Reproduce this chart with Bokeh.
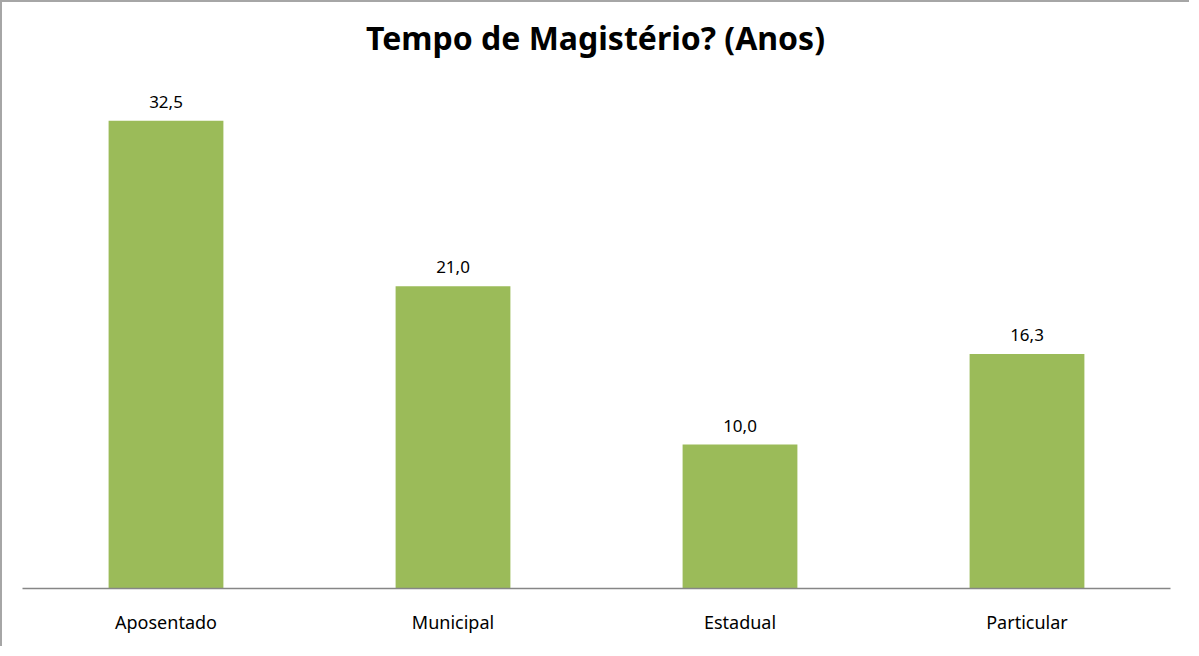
from bokeh.plotting import figure
from bokeh.models import Range1d, FactorRange, ColumnDataSource, Label
from bokeh.embed import file_html
from bokeh.resources import INLINE

categories = ["Aposentado", "Municipal", "Estadual", "Particular"]
values = [32.5, 21.0, 10.0, 16.3]
value_labels = ["32,5", "21,0", "10,0", "16,3"]
title_text = "Tempo de Magistério? (Anos)"

FONT = "Noto Sans"

src = ColumnDataSource(data=dict(cat=categories, val=values, lab=value_labels))

p = figure(
    x_range=FactorRange(*categories, range_padding=0),
    y_range=Range1d(0, 40.72),
    width=1189, height=646,
    output_backend="svg", toolbar_location=None,
    min_border_left=20, min_border_right=21, min_border_top=0, min_border_bottom=60,
)
p.styles = {"border-left": "2px solid #a6a6a6", "border-top": "2px solid #a6a6a6"}

p.vbar(x="cat", top="val", width=0.4, source=src, fill_color="#9BBB59", line_color=None)
p.text(x="cat", y="val", text="lab", source=src, text_align="center", text_baseline="bottom",
       y_offset=-13, text_font_size="17px", text_color="#000000", text_font={"value": FONT})

# chart title, drawn inside the top of the frame
title = Label(x=573, y=551, x_units="screen", y_units="screen", text=title_text,
              text_align="center", text_baseline="alphabetic", text_font=FONT,
              text_font_size="32px", text_font_style="bold", text_color="#000000")
p.add_layout(title)

p.yaxis.visible = False
p.xgrid.visible = False
p.ygrid.visible = False
p.outline_line_color = None

ax = p.xaxis[0]
ax.axis_line_color = "#868686"
ax.axis_line_width = 1.5
ax.major_tick_line_color = None
ax.minor_tick_line_color = None
ax.major_label_standoff = 15
ax.major_label_text_font = FONT
ax.major_label_text_font_size = "18px"
ax.major_label_text_color = "#000000"

p.background_fill_color = "#ffffff"
p.border_fill_color = "#ffffff"

open("out.html", "w").write(file_html(p, INLINE))
